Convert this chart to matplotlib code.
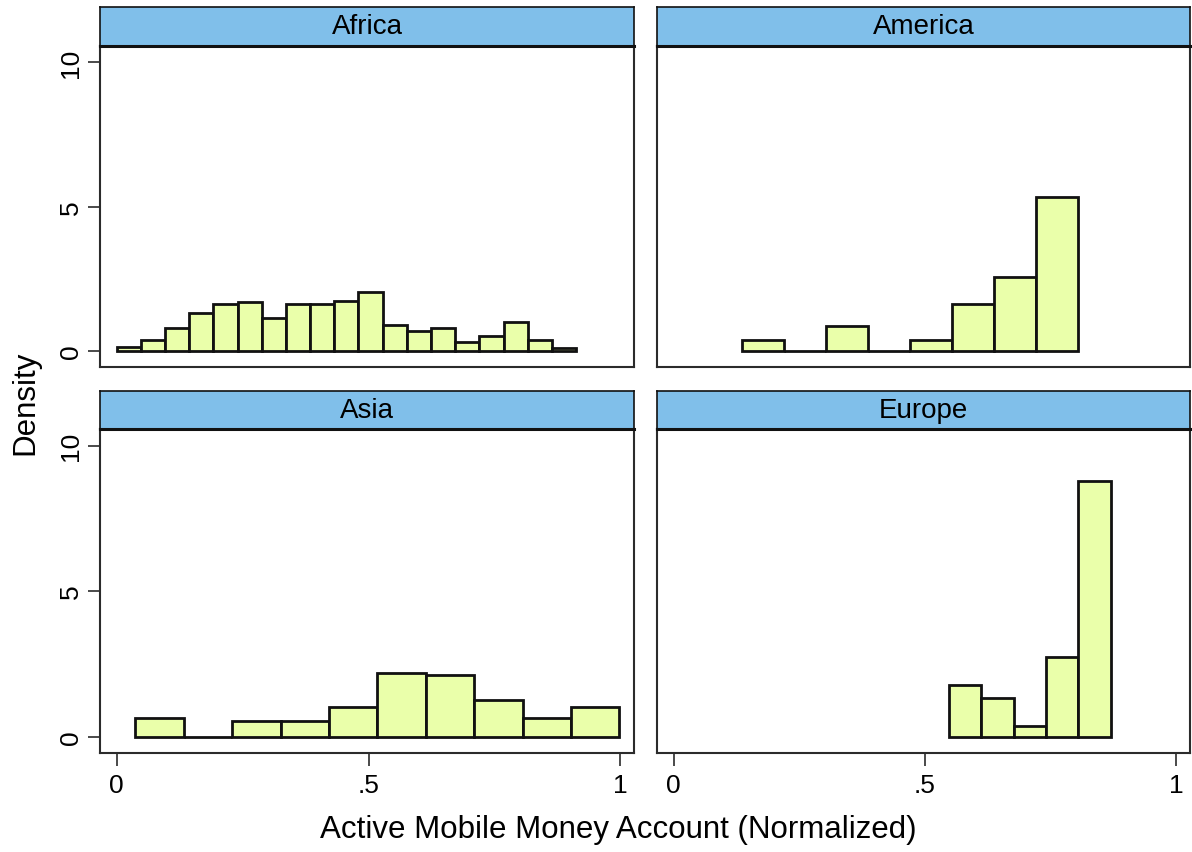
import matplotlib
matplotlib.use('Agg')
import matplotlib.pyplot as plt
import numpy as np

plt.rcParams['font.family'] = ['Liberation Sans', 'DejaVu Sans']

# ---- data ----
regions = ['Africa', 'America', 'Asia', 'Europe']

africa_start = 0.0
africa_width = 0.0480
africa_density = [0.15, 0.37, 0.79, 1.32, 1.64, 1.69, 1.15, 1.63, 1.63, 1.73,
                  2.05, 0.92, 0.69, 0.79, 0.32, 0.53, 1.01, 0.37, 0.12]

america_start = 0.137
america_width = 0.0834
america_density = [0.38, 0.0, 0.86, 0.0, 0.38, 1.63, 2.55, 5.35]

asia_start = 0.037
asia_width = 0.0961
asia_density = [0.64, 0.0, 0.55, 0.55, 1.00, 2.19, 2.10, 1.27, 0.64, 1.00]

europe_start = 0.548
europe_width = 0.0642
europe_density = [1.79, 1.33, 0.38, 2.72, 8.80]

x_ticks = [0, 0.5, 1]
x_ticklabels = ['0', '.5', '1']
y_ticks = [0, 5, 10]
y_ticklabels = ['0', '5', '10']

panels = {
    'Africa': (africa_start, africa_width, africa_density),
    'America': (america_start, america_width, america_density),
    'Asia': (asia_start, asia_width, asia_density),
    'Europe': (europe_start, europe_width, europe_density),
}

# ---- style ----
W, H = 1192, 853
fig = plt.figure(figsize=(W / 100, H / 100), dpi=100)
fig.patch.set_facecolor('white')

bar_fill = '#eaffaa'
strip_color = '#80bfea'
frame_color = '#2b2b2b'

# pixel layout: (left, right) columns and (top, bottom) rows
cols = [(100, 634), (657, 1190)]
rows = [(46.7, 368), (430, 753.6)]
strips = [(7.5, 46.7), (392, 430)]

def fx(px):
    return px / W

def fy(py):
    return 1 - py / H

for i, region in enumerate(regions):
    r, c = divmod(i, 2)
    x0, x1 = cols[c]
    y0, y1 = rows[r]
    ax = fig.add_axes([fx(x0), fy(y1), fx(x1) - fx(x0), fy(y0) - fy(y1)])
    start, width, dens = panels[region]
    lefts = start + width * np.arange(len(dens))
    ax.bar(lefts, dens, width=width, align='edge', color=bar_fill,
           edgecolor='#111111', linewidth=2.0, zorder=3)
    ax.set_xlim(-0.033, 1.027)
    ax.set_ylim(-0.55, 10.57)
    for sp in ax.spines.values():
        sp.set_color(frame_color)
        sp.set_linewidth(1.5)
    if c == 0:
        ax.set_yticks(y_ticks)
        ax.set_yticklabels(y_ticklabels, rotation=90, va='center', fontsize=19)
        ax.tick_params(axis='y', length=8.5, width=1.2, pad=4, color=frame_color)
    else:
        ax.set_yticks([])
    if r == 1:
        ax.set_xticks(x_ticks)
        ax.set_xticklabels(x_ticklabels, fontsize=19)
        ax.tick_params(axis='x', length=9, width=1.2, pad=6, color=frame_color)
    else:
        ax.set_xticks([])

    # strip header
    s0, s1 = strips[r]
    sax = fig.add_axes([fx(x0), fy(s1), fx(x1) - fx(x0), fy(s0) - fy(s1)])
    sax.set_facecolor(strip_color)
    sax.set_xticks([])
    sax.set_yticks([])
    for name, sp in sax.spines.items():
        sp.set_color('#111111')
        sp.set_linewidth(2.2 if name == 'bottom' else 1.2)
    sax.text(0.5, 0.5, region, ha='center', va='center', fontsize=20,
             transform=sax.transAxes)

fig.text(fx(25), fy(403), 'Density', rotation=90, ha='center', va='center',
         fontsize=22.5)
fig.text(fx(618), fy(830), 'Active Mobile Money Account (Normalized)',
         ha='center', va='center', fontsize=22.5)

fig.savefig('out.png', dpi=100, facecolor='white')
